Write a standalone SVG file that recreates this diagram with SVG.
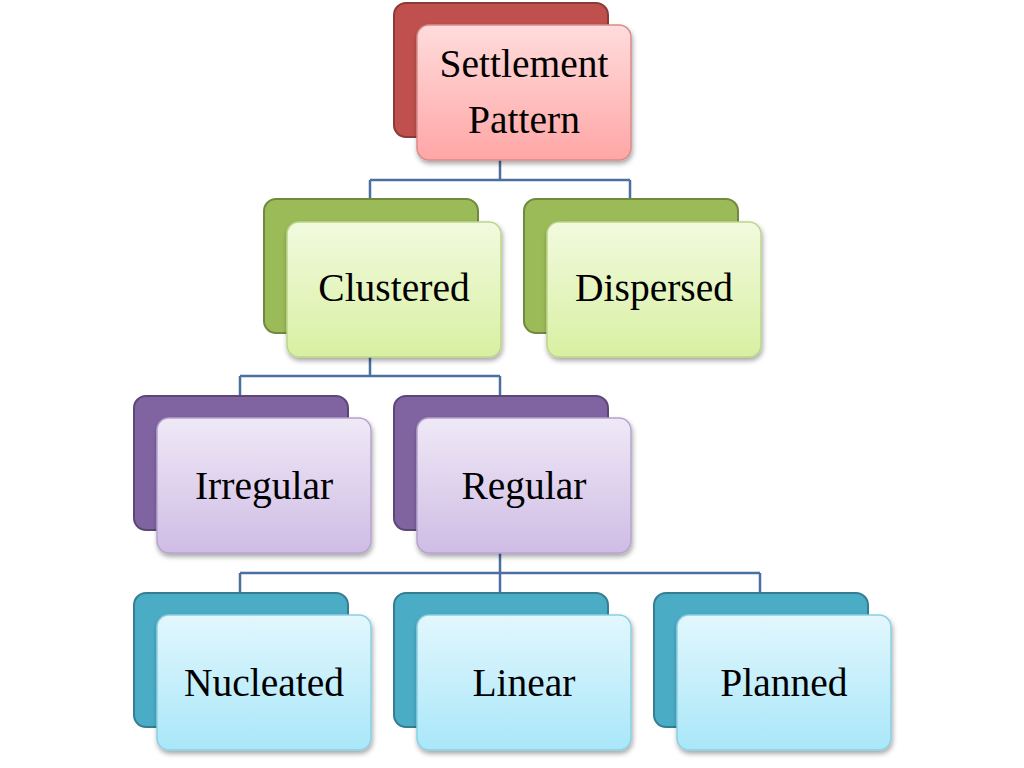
<svg xmlns="http://www.w3.org/2000/svg" width="1024" height="768" viewBox="0 0 1024 768">
<defs>
<linearGradient id="gRed" x1="0" y1="0" x2="0" y2="1"><stop offset="0" stop-color="#FFDCDC"/><stop offset="1" stop-color="#FFA6A6"/></linearGradient>
<linearGradient id="gGreen" x1="0" y1="0" x2="0" y2="1"><stop offset="0" stop-color="#F2FADF"/><stop offset="1" stop-color="#D8F0A2"/></linearGradient>
<linearGradient id="gPurple" x1="0" y1="0" x2="0" y2="1"><stop offset="0" stop-color="#EFE9F6"/><stop offset="1" stop-color="#CFBCE5"/></linearGradient>
<linearGradient id="gTeal" x1="0" y1="0" x2="0" y2="1"><stop offset="0" stop-color="#E2F7FD"/><stop offset="1" stop-color="#A9E7F9"/></linearGradient>
<filter id="sh" x="-10%" y="-10%" width="125%" height="130%"><feDropShadow dx="1" dy="3" stdDeviation="2.5" flood-color="#000" flood-opacity="0.35"/></filter>
</defs>
<style>
.back{stroke-width:2}
.front{stroke-width:1.5;filter:url(#sh)}
.red .back{fill:#C0504D;stroke:#8C3A38}
.red .front{fill:url(#gRed);stroke:#D88C8A}
.green .back{fill:#9BBB59;stroke:#71893F}
.green .front{fill:url(#gGreen);stroke:#BCD58A}
.purple .back{fill:#8064A2;stroke:#5C4776}
.purple .front{fill:url(#gPurple);stroke:#B6A3CE}
.teal .back{fill:#4BACC6;stroke:#357D91}
.teal .front{fill:url(#gTeal);stroke:#8BCFE1}
text{font-family:"Liberation Serif","Times New Roman",serif;font-size:39.5px;fill:#000;text-anchor:middle}
.conn path{fill:none;stroke:#4A6FA0;stroke-width:2.5}
</style>
<g class="conn">
<path d="M500,160 V180 M370,180 H630 M370,180 V200 M630,180 V200"/>
<path d="M370,357 V376 M240,376 H500 M240,376 V397 M500,376 V397"/>
<path d="M500,553 V573 M240,573 H760 M240,573 V594 M500,573 V594 M760,573 V594"/>
</g>
<g id="settlement" class="red">
<rect class="back" x="394" y="3" width="214" height="134" rx="12"/>
<rect class="front" x="417" y="25" width="214" height="135" rx="12"/>
<text x="524" y="77">Settlement</text>
<text x="524" y="133">Pattern</text>
</g>
<g id="clustered" class="green">
<rect class="back" x="264" y="199" width="214" height="134" rx="12"/>
<rect class="front" x="287" y="222" width="214" height="135" rx="12"/>
<text x="394" y="301">Clustered</text>
</g>
<g id="dispersed" class="green">
<rect class="back" x="524" y="199" width="214" height="134" rx="12"/>
<rect class="front" x="547" y="222" width="214" height="135" rx="12"/>
<text x="654" y="301">Dispersed</text>
</g>
<g id="irregular" class="purple">
<rect class="back" x="134" y="396" width="214" height="134" rx="12"/>
<rect class="front" x="157" y="418" width="214" height="135" rx="12"/>
<text x="264" y="499">Irregular</text>
</g>
<g id="regular" class="purple">
<rect class="back" x="394" y="396" width="214" height="134" rx="12"/>
<rect class="front" x="417" y="418" width="214" height="135" rx="12"/>
<text x="524" y="499">Regular</text>
</g>
<g id="nucleated" class="teal">
<rect class="back" x="134" y="593" width="214" height="134" rx="12"/>
<rect class="front" x="157" y="615" width="214" height="135" rx="12"/>
<text x="264" y="696">Nucleated</text>
</g>
<g id="linear" class="teal">
<rect class="back" x="394" y="593" width="214" height="134" rx="12"/>
<rect class="front" x="417" y="615" width="214" height="135" rx="12"/>
<text x="524" y="696">Linear</text>
</g>
<g id="planned" class="teal">
<rect class="back" x="654" y="593" width="214" height="134" rx="12"/>
<rect class="front" x="677" y="615" width="214" height="135" rx="12"/>
<text x="784" y="696">Planned</text>
</g>
</svg>
